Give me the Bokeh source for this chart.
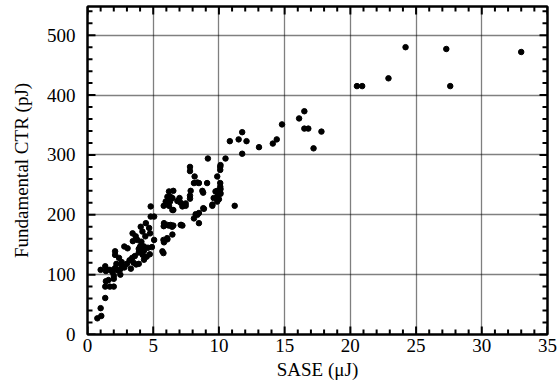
from bokeh.plotting import figure
from bokeh.models import LinearAxis, Range1d, SingleIntervalTicker
from bokeh.embed import file_html
from bokeh.resources import INLINE

# SASE energy (uJ)
sase = [
    0.75, 1.05, 1.0, 1.35, 1.35, 1.7, 2.0, 1.6, 2.0, 1.4,
    1.0, 1.35, 1.4, 1.7, 1.9, 2.1, 2.3, 2.5, 2.2, 2.6,
    2.1, 2.1, 2.4, 2.6, 2.8, 3.05, 2.5, 2.0, 2.8, 3.0,
    3.2, 3.4, 3.5, 3.7, 3.9, 3.6, 3.43, 3.45, 3.67, 3.8,
    3.9, 4.0, 4.1, 4.2, 4.3, 4.05, 4.18, 4.44, 4.3, 4.4,
    4.69, 4.76, 4.74, 4.81, 5.07, 4.81, 5.07, 4.9, 4.3, 4.5,
    3.3, 3.9, 4.1, 4.6, 4.2,
    5.78, 5.7, 5.82, 6.08, 6.46, 5.78, 6.06, 5.82, 6.08, 6.33,
    5.8, 6.44, 7.14, 7.09, 5.87, 6.2, 6.53, 7.22, 5.8, 6.2,
    6.53, 6.46, 5.95, 6.28, 6.84, 7.09, 7.47, 7.8, 7.8, 6.2,
    6.53, 7.85, 6.08, 6.46, 7.22, 7.47, 7.8, 7.8, 6.3, 7.0,
    8.15, 8.36, 8.1, 8.48, 9.1, 8.8, 8.1, 8.36, 8.48, 8.81,
    8.86, 8.48, 8.23, 9.5, 9.87, 9.5, 9.74, 10.1, 10.1, 10.1,
    10.1, 10.1, 9.16, 10.5, 10.12, 9.87, 10.12, 9.87, 10.12, 9.6,
    9.9, 10.0, 11.2, 8.74,
    10.83, 11.5, 11.77, 12.1, 11.77, 13.05, 14.1, 14.4, 14.8, 16.1,
    16.5, 16.5, 16.8, 17.8, 17.2, 20.5, 20.9, 22.9, 24.2, 27.3,
    27.6, 33.0,
]
# Fundamental CTR energy (pJ)
ctr = [
    27, 31, 44, 61, 80, 80, 80, 91, 93, 89,
    108, 114, 106, 108, 104, 111, 107, 109, 118, 115,
    139, 133, 128, 121, 147, 144, 100, 98, 112, 118,
    124, 128, 120, 117, 118, 131, 169, 156, 164, 158,
    143, 147, 150, 144, 140, 180, 172, 186, 147, 164,
    178, 169, 134, 214, 197, 197, 158, 146, 125, 130,
    110, 137, 155, 145, 133,
    136, 139, 154, 159, 167, 158, 161, 186, 183, 183,
    181, 180, 183, 183, 183, 182, 182, 182, 215, 215,
    208, 208, 222, 222, 223, 220, 219, 227, 232, 239,
    240, 240, 230, 228, 214, 215, 280, 273, 230, 228,
    264, 254, 253, 253, 253, 237, 194, 200, 186, 211,
    210, 203, 201, 217, 222, 215, 239, 237, 253, 247,
    280, 275, 294, 294, 283, 264, 243, 240, 235, 228,
    232, 226, 215, 240,
    323, 326, 338, 323, 302, 313, 319, 326, 351, 361,
    373, 344, 344, 339, 311, 415, 415, 428, 480, 477,
    415, 472,
]

x_label = "SASE (\u03bcJ)"
y_label = "Fundamental CTR (pJ)"

X_MIN, X_MAX, X_STEP, X_MINOR = 0, 35, 5, 1
Y_MIN, Y_MAX, Y_STEP, Y_MINOR = 0, 548, 100, 20

FONT = "Liberation Serif"
FRAME_W, FRAME_H = 460, 328

xt = SingleIntervalTicker(interval=X_STEP, num_minor_ticks=5)
yt = SingleIntervalTicker(interval=Y_STEP, num_minor_ticks=5)

p = figure(
    frame_width=FRAME_W, frame_height=FRAME_H,
    min_border_left=87, min_border_right=10, min_border_top=6, min_border_bottom=56,
    x_range=Range1d(X_MIN, X_MAX), y_range=Range1d(Y_MIN, Y_MAX),
    x_axis_location=None, y_axis_location=None,
    output_backend="svg", toolbar_location=None,
    background_fill_color="white", border_fill_color="white",
)
p.outline_line_color = "black"
p.outline_line_width = 2


def make_axis(ticker, labelled):
    return LinearAxis(
        ticker=ticker,
        axis_line_width=2, axis_line_color="black",
        major_tick_in=0, major_tick_out=0,
        minor_tick_in=0, minor_tick_out=0,
        major_tick_line_color=None, minor_tick_line_color=None,
        major_label_text_font=FONT,
        major_label_text_font_size="19px" if labelled else "0px",
        major_label_text_color="black" if labelled else None,
        axis_label_text_font=FONT,
        axis_label_text_font_size="19px",
        axis_label_text_font_style="normal",
        axis_label_text_color="black",
    )


bx = make_axis(xt, True)
bx.axis_label = x_label
bx.major_label_standoff = 4
bx.axis_label_standoff = 4
p.add_layout(bx, "below")

ly = make_axis(yt, True)
ly.axis_label = y_label
ly.major_label_standoff = 12
ly.axis_label_standoff = 12
p.add_layout(ly, "left")

ry = make_axis(yt, False)
ry.major_label_standoff = 0
p.add_layout(ry, "right")

tx = make_axis(xt, False)
tx.major_label_standoff = 0
p.add_layout(tx, "above")

p.xgrid.ticker = xt
p.ygrid.ticker = yt
p.grid.grid_line_color = "black"
p.grid.grid_line_width = 1.3
p.grid.grid_line_dash = "1 1"
p.grid.grid_line_alpha = 1.0

# inward tick marks on all four sides, lengths converted from pixels to data units
x_major = list(range(X_MIN, X_MAX + 1, X_STEP))
x_minor = [v for v in range(X_MIN, X_MAX + 1, X_MINOR) if v % X_STEP]
y_major = list(range(Y_MIN, Y_MAX + 1, Y_STEP))
y_minor = [v for v in range(Y_MIN, Y_MAX + 1, Y_MINOR) if v % Y_STEP]

PX_X = (X_MAX - X_MIN) / FRAME_W
PX_Y = (Y_MAX - Y_MIN) / FRAME_H
MAJ, MIN_ = 8, 5

tk = dict(line_color="black", line_width=2)
for ys, L in ((y_major, MAJ), (y_minor, MIN_)):
    p.segment(x0=[X_MIN] * len(ys), y0=ys, x1=[X_MIN + L * PX_X] * len(ys), y1=ys, **tk)
    p.segment(x0=[X_MAX] * len(ys), y0=ys, x1=[X_MAX - L * PX_X] * len(ys), y1=ys, **tk)
for xs, L in ((x_major, MAJ), (x_minor, MIN_)):
    p.segment(x0=xs, y0=[Y_MIN] * len(xs), x1=xs, y1=[Y_MIN + L * PX_Y] * len(xs), **tk)
    p.segment(x0=xs, y0=[Y_MAX] * len(xs), x1=xs, y1=[Y_MAX - L * PX_Y] * len(xs), **tk)

p.scatter(sase, ctr, size=5.5, color="black", marker="circle")

open("out.html", "w").write(file_html(p, INLINE))
